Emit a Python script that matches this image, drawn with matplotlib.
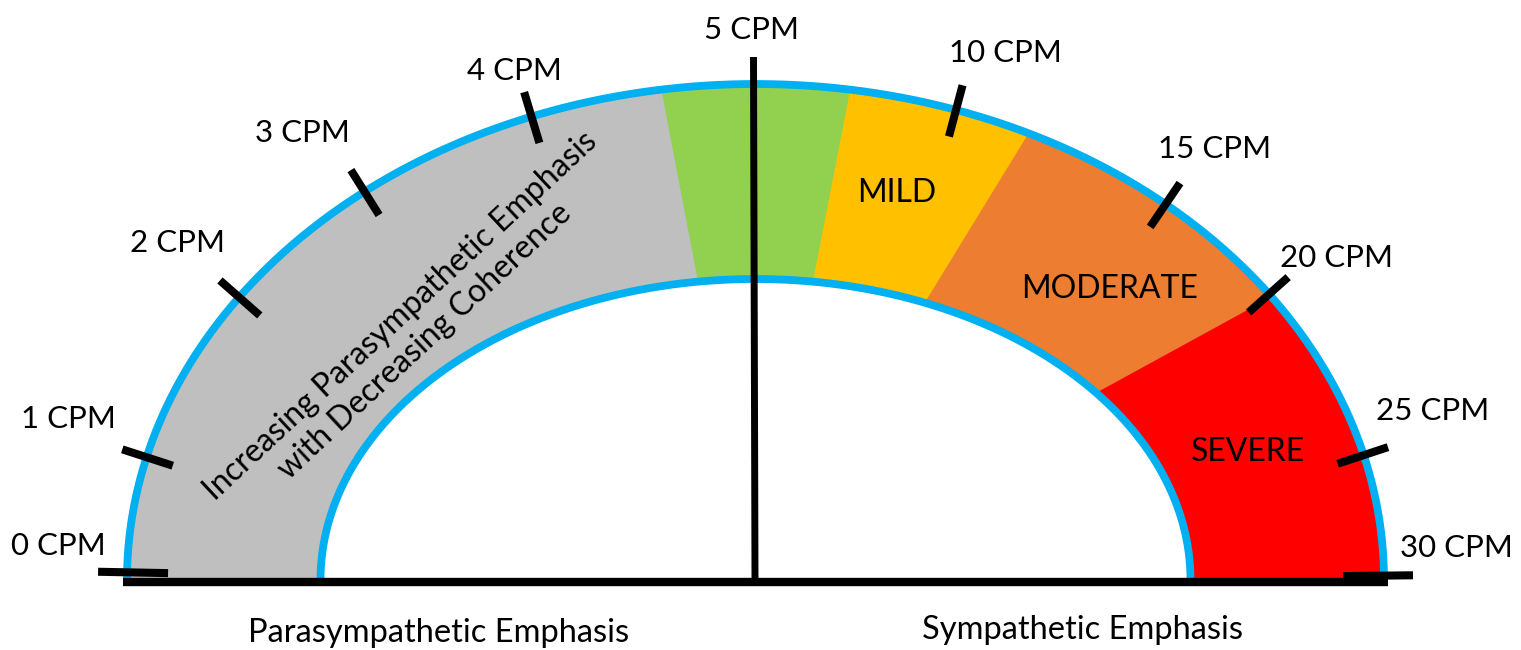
import numpy as np
import matplotlib
matplotlib.use("Agg")
import matplotlib.pyplot as plt

plt.rcParams['font.family'] = ['Lato', 'DejaVu Sans']

# gauge bands: boundary angles (deg, 180 = left end) and fill colours
band_edges = [180, 100.8, 79.0, 58.5, 28.7, 0]
band_colors = ['#BFBFBF', '#92D050', '#FFC000', '#ED7D31', '#FF0000']
band_names = ['', '', 'MILD', 'MODERATE', 'SEVERE']

# breathing-rate ticks and where they sit on the arc
tick_labels = ['0 CPM', '1 CPM', '2 CPM', '3 CPM', '4 CPM', '5 CPM',
               '10 CPM', '15 CPM', '20 CPM', '25 CPM', '30 CPM']
tick_angles = [179.3, 168.6, 151.3, 135.2, 115.8, 90, 66.9, 42.5, 29.1, 11.6, 0.4]

side_labels = ['Parasympathetic Emphasis', 'Sympathetic Emphasis']
arc_note = 'Increasing Parasympathetic Emphasis\nwith Decreasing Coherence'

# layout (pixel units, y down)
cx, cy = 755.5, 580
a_out, b_out = 628.5, 496
a_in, b_in = 435, 301
tick_label_pos = [(58, 546), (68, 419), (178, 243), (302, 133), (514, 71), (751, 30),
                  (1005, 53), (1215, 149), (1337, 258), (1433, 411), (1456, 548)]
band_label_pos = [None, None, (897, 193), (1110, 289), (1248, 452)]
side_label_pos = [(439, 633), (1082, 630)]
BLUE = '#00B0F0'


def ellipse_pt(theta, a, b):
    t = np.radians(theta)
    r = a * b / np.sqrt((b * np.cos(t)) ** 2 + (a * np.sin(t)) ** 2)
    return cx + r * np.cos(t), cy - r * np.sin(t)


fig = plt.figure(figsize=(15.21, 6.5), dpi=100)
ax = fig.add_axes([0, 0, 1, 1])
ax.set_xlim(0, 1521)
ax.set_ylim(650, 0)
ax.axis('off')

# coloured bands
for i, col in enumerate(band_colors):
    th = np.linspace(band_edges[i], band_edges[i + 1], 200)
    xo, yo = ellipse_pt(th, a_out, b_out)
    xi, yi = ellipse_pt(th[::-1], a_in, b_in)
    ax.fill(np.r_[xo, xi], np.r_[yo, yi], color=col, lw=0.8, ec=col, zorder=1)

# blue rims
th = np.linspace(0, 180, 600)
for a, b in [(a_out, b_out), (a_in, b_in)]:
    x, y = ellipse_pt(th, a, b)
    ax.plot(x, y, color=BLUE, lw=5.6, solid_capstyle='butt', zorder=2)
ax.plot([cx - a_out - 3, cx + a_out + 3], [585, 585], color=BLUE, lw=1.5, zorder=2)

# base line and the 5 CPM divider
ax.plot([cx - a_out - 4, cx + a_out + 4], [582, 582], color='black', lw=6,
        solid_capstyle='butt', zorder=3)
ax.plot([753.5, 755], [57, 580], color='black', lw=5, solid_capstyle='butt', zorder=3)

# tick marks, normal to the outer rim
for lab, ang, pos in zip(tick_labels, tick_angles, tick_label_pos):
    end_tick = ang < 1 or ang > 179
    if ang != 90:
        px, py = ellipse_pt(ang, a_out, b_out)
        dx, dy = px - cx, cy - py
        nx, ny = dx / a_out ** 2, dy / b_out ** 2
        n = np.hypot(nx, ny)
        nx, ny = nx / n, -ny / n
        length = 70 if end_tick else 53
        shift = 6 if end_tick else 1
        mx, my = px - shift * nx, py - shift * ny
        ax.plot([mx - nx * length / 2, mx + nx * length / 2],
                [my - ny * length / 2, my + ny * length / 2],
                color='black', lw=5.8, solid_capstyle='butt', zorder=4)
    ax.text(pos[0], pos[1], lab, fontsize=22.5, ha='center', va='center', zorder=5)

for name, pos in zip(band_names, band_label_pos):
    if name:
        ax.text(pos[0], pos[1], name, fontsize=23, ha='center', va='center', zorder=5)

ax.text(413, 329, arc_note, fontsize=23, ha='center', va='center', rotation=43,
        rotation_mode='anchor', multialignment='center', linespacing=1.2, zorder=5)

for lab, pos in zip(side_labels, side_label_pos):
    ax.text(pos[0], pos[1], lab, fontsize=23.5, ha='center', va='center', zorder=5)

fig.savefig('out.png', dpi=100)
